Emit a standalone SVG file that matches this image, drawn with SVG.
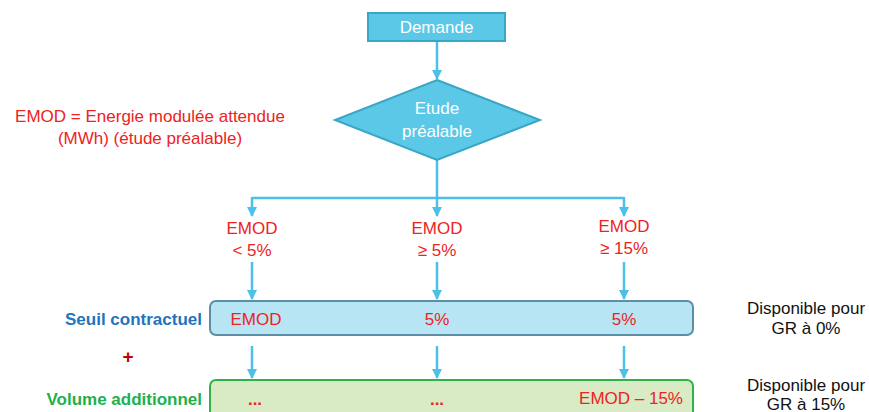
<svg xmlns="http://www.w3.org/2000/svg" width="869" height="412" viewBox="0 0 869 412">
<style>
text{font-family:"Liberation Sans",Arial,sans-serif}
.w{fill:#ffffff;font-size:17px;text-anchor:middle}
.r{fill:#ee2222;font-size:17px;text-anchor:middle}
.rb{fill:#ee2222;font-size:17px;text-anchor:middle}
.k{fill:#111;font-size:17px;text-anchor:middle}
.c{stroke:#4cc0e8;stroke-width:2.5;fill:none}
</style>
<defs>
<marker id="a" viewBox="0 0 10 10" refX="9" refY="5" markerWidth="4" markerHeight="4" orient="auto" markerUnits="strokeWidth">
<path d="M0,0L10,5L0,10z" fill="#4cc0e8"/>
</marker>
</defs>
<g id="connectors">
<path class="c" d="M437,41V79" marker-end="url(#a)"/>
<path class="c" d="M437,160V198"/>
<path class="c" d="M252,198H624"/>
<path class="c" d="M252,197V216" marker-end="url(#a)"/>
<path class="c" d="M437,197V216" marker-end="url(#a)"/>
<path class="c" d="M624,197V216" marker-end="url(#a)"/>
<path class="c" d="M252,262V299" marker-end="url(#a)"/>
<path class="c" d="M437,262V299" marker-end="url(#a)"/>
<path class="c" d="M624,262V299" marker-end="url(#a)"/>
<path class="c" d="M252,346V378" marker-end="url(#a)"/>
<path class="c" d="M437,346V378" marker-end="url(#a)"/>
<path class="c" d="M624,346V378" marker-end="url(#a)"/>
</g>
<g id="demande">
<rect x="368" y="13" width="137" height="28" fill="#5bc8e8" stroke="#3aa6c6" stroke-width="2"/>
<text class="w" x="436.5" y="33">Demande</text>
</g>
<g id="etude">
<polygon points="437,80 540,120 437,160 335,120" fill="#5bc8e8" stroke="#3aa6c6" stroke-width="2"/>
<text class="w" x="437" y="114">Etude</text>
<text class="w" x="437" y="137">préalable</text>
</g>
<g id="legende">
<text class="rb" x="150" y="122">EMOD = Energie modulée attendue</text>
<text class="rb" x="150" y="144">(MWh) (étude préalable)</text>
</g>
<g id="cond1">
<text class="r" x="252" y="234">EMOD</text>
<text class="r" x="252" y="256">&lt; 5%</text>
</g>
<g id="cond2">
<text class="r" x="437" y="234">EMOD</text>
<text class="r" x="437" y="256">≥ 5%</text>
</g>
<g id="cond3">
<text class="r" x="624" y="232">EMOD</text>
<text class="r" x="624" y="254">≥ 15%</text>
</g>
<g id="seuil">
<text x="202" y="325" fill="#1f74c0" font-size="17" font-weight="bold" text-anchor="end">Seuil contractuel</text>
<rect x="210" y="301" width="483" height="34" rx="6" fill="#b8e5f3" stroke="#5b8fa8" stroke-width="2"/>
<text class="rb" x="256" y="325">EMOD</text>
<text class="rb" x="437" y="325">5%</text>
<text class="rb" x="624" y="325">5%</text>
</g>
<g id="plus">
<text x="128" y="363" fill="#c00000" font-size="19" font-weight="bold" text-anchor="middle">+</text>
</g>
<g id="volume">
<text x="202" y="405" fill="#22b04a" font-size="17" font-weight="bold" text-anchor="end">Volume additionnel</text>
<rect x="210" y="380" width="483" height="40" rx="6" fill="#d8ebc4" stroke="#2db34a" stroke-width="2"/>
<text class="rb" x="255" y="405" font-weight="bold">...</text>
<text class="rb" x="437" y="405" font-weight="bold">...</text>
<text class="rb" x="683" y="404" style="text-anchor:end">EMOD – 15%</text>
</g>
<g id="dispo1">
<text class="k" x="806" y="314">Disponible pour</text>
<text class="k" x="806" y="334">GR à 0%</text>
</g>
<g id="dispo2">
<text class="k" x="806" y="391">Disponible pour</text>
<text class="k" x="806" y="410">GR à 15%</text>
</g>
</svg>
